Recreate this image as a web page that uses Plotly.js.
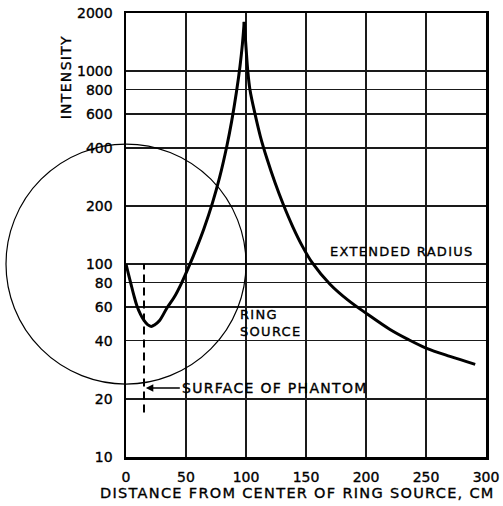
<!DOCTYPE html>
<html>
<head>
<meta charset="utf-8">
<script src="https://cdn.plot.ly/plotly-3.0.1.min.js"></script>
<style>
html,body{margin:0;padding:0;background:#fff;}
#chart{width:503px;height:506px;}
.annotation-text{letter-spacing:1.3px;}
#chart svg text{stroke:#000;stroke-width:0.35px;}
</style>
</head>
<body>
<div id="chart"></div>
<script>
// Data
const distanceCm = [0, 2, 4, 6.5, 9, 12, 15, 18, 21, 24, 28, 34, 40, 46, 53, 59, 65, 72, 78, 84, 88, 92, 95, 97, 98.5, 100, 101.5, 103.3, 107.5, 112, 117.5, 124, 131, 139, 147.5, 155, 170, 185, 201, 220, 235, 250, 270, 291];
const intensity  = [100, 89, 79.5, 69, 61, 55, 51, 48.5, 47.5, 48.5, 51, 59, 67, 79, 99, 122, 153, 207, 281, 408, 547, 776, 1060, 1380, 1800, 1330, 1000, 800, 600, 458, 351, 266, 204, 156, 122, 102, 78.6, 65, 55.1, 45.8, 40.7, 36.7, 33.2, 30.2];

const xTickVals = [0, 50, 100, 150, 200, 250, 300];
const yTickVals = [10, 20, 40, 60, 80, 100, 200, 400, 600, 800, 1000, 2000];
const yTickText = ["10", "20", "40", "60", "80", "100", "200", "400", "600", "800", "1000", "2000"];

const xTitle = "DISTANCE FROM CENTER OF RING SOURCE, CM";
const yTitle = "INTENSITY";

// Annotation anchors (data units)
const phantomSurfaceX = 15;
const phantomSurfaceLow = 17;
const phantomSurfaceHigh = 100;
const ringCenter = {x: 0, y: 100};
const ringRadiusX = 100;

const W = 503, H = 506;
const M = {l: 126, r: 17, t: 13, b: 49};
const plotW = W - M.l - M.r, plotH = H - M.t - M.b;
const xRange = [0, 300];
const yRange = [1, Math.log10(2000)];

const FONT = "DejaVu Sans, Liberation Sans, Arial, sans-serif";

// circle centred on (0,100) with radius of 100 cm in pixel space -> paper coords
const rPx = ringRadiusX * plotW / (xRange[1] - xRange[0]);
const cxP = (ringCenter.x - xRange[0]) / (xRange[1] - xRange[0]);
const cyP = (Math.log10(ringCenter.y) - yRange[0]) / (yRange[1] - yRange[0]);
const rxP = rPx / plotW, ryP = rPx / plotH;

// split the curve at its cusp so each branch is smoothed separately
let peak = 0;
intensity.forEach((v, i) => { if (v > intensity[peak]) peak = i; });

const lineStyle = {color: '#000', width: 3, shape: 'spline', smoothing: 1};
const traces = [
  {x: distanceCm.slice(0, peak + 1), y: intensity.slice(0, peak + 1),
   type: 'scatter', mode: 'lines', line: lineStyle, hoverinfo: 'skip'},
  {x: distanceCm.slice(peak), y: intensity.slice(peak),
   type: 'scatter', mode: 'lines', line: lineStyle, hoverinfo: 'skip'}
];

const axisCommon = {
  showgrid: true,
  gridcolor: '#1a1a1a',
  gridwidth: 1.3,
  showline: true,
  linecolor: '#000',
  linewidth: 2.5,
  mirror: true,
  zeroline: false,
  ticks: '',
  tickfont: {family: FONT, size: 14, color: '#000'}
};

const layout = {
  width: W, height: H,
  margin: M,
  paper_bgcolor: '#fff',
  plot_bgcolor: '#fff',
  showlegend: false,
  font: {family: FONT, color: '#000'},
  xaxis: Object.assign({}, axisCommon, {
    range: xRange,
    tickmode: 'array',
    tickvals: xTickVals,
    ticktext: xTickVals.map(String),
    ticklabelstandoff: 6
  }),
  yaxis: Object.assign({}, axisCommon, {
    type: 'log',
    range: yRange,
    tickmode: 'array',
    tickvals: yTickVals,
    ticktext: yTickText,
    ticklabelstandoff: 8
  }),
  shapes: [
    {type: 'circle', xref: 'paper', yref: 'paper',
     x0: cxP - rxP, x1: cxP + rxP, y0: cyP - ryP, y1: cyP + ryP,
     line: {color: '#000', width: 1.2}},
    {type: 'line', xref: 'x', yref: 'y',
     x0: phantomSurfaceX, x1: phantomSurfaceX,
     y0: phantomSurfaceLow, y1: phantomSurfaceHigh,
     line: {color: '#000', width: 2, dash: '8px,5px'}}
  ],
  annotations: [
    {text: xTitle, xref: 'paper', yref: 'paper', x: 0.4764, y: -0.081,
     xanchor: 'center', yanchor: 'middle', showarrow: false,
     font: {family: FONT, size: 14.5, color: '#000'}},
    {text: yTitle, xref: 'paper', yref: 'paper', x: -0.168, y: 0.854,
     xanchor: 'center', yanchor: 'middle',
     textangle: -90, showarrow: false, font: {family: FONT, size: 14, color: '#000'}},
    {text: 'EXTENDED RADIUS', xref: 'x', yref: 'y', x: 230, y: 2,
     xanchor: 'center', yanchor: 'bottom', yshift: 3, showarrow: false,
     font: {family: FONT, size: 13, color: '#000'}},
    {text: 'RING<br>SOURCE', xref: 'x', yref: 'y', x: 93.5, y: Math.log10(49.5),
     xanchor: 'left', yanchor: 'middle', align: 'left', showarrow: false,
     font: {family: FONT, size: 13, color: '#000'}},
    {text: 'SURFACE OF PHANTOM', xref: 'x', yref: 'y', x: phantomSurfaceX + 1.5, y: Math.log10(22.8),
     ax: 34, ay: 0, xanchor: 'left', yanchor: 'middle',
     showarrow: true, arrowhead: 2, arrowsize: 1, arrowwidth: 1.5, arrowcolor: '#000',
     font: {family: FONT, size: 14, color: '#000'}}
  ]
};

Plotly.newPlot('chart', traces, layout, {staticPlot: true, displayModeBar: false});
</script>
</body>
</html>
